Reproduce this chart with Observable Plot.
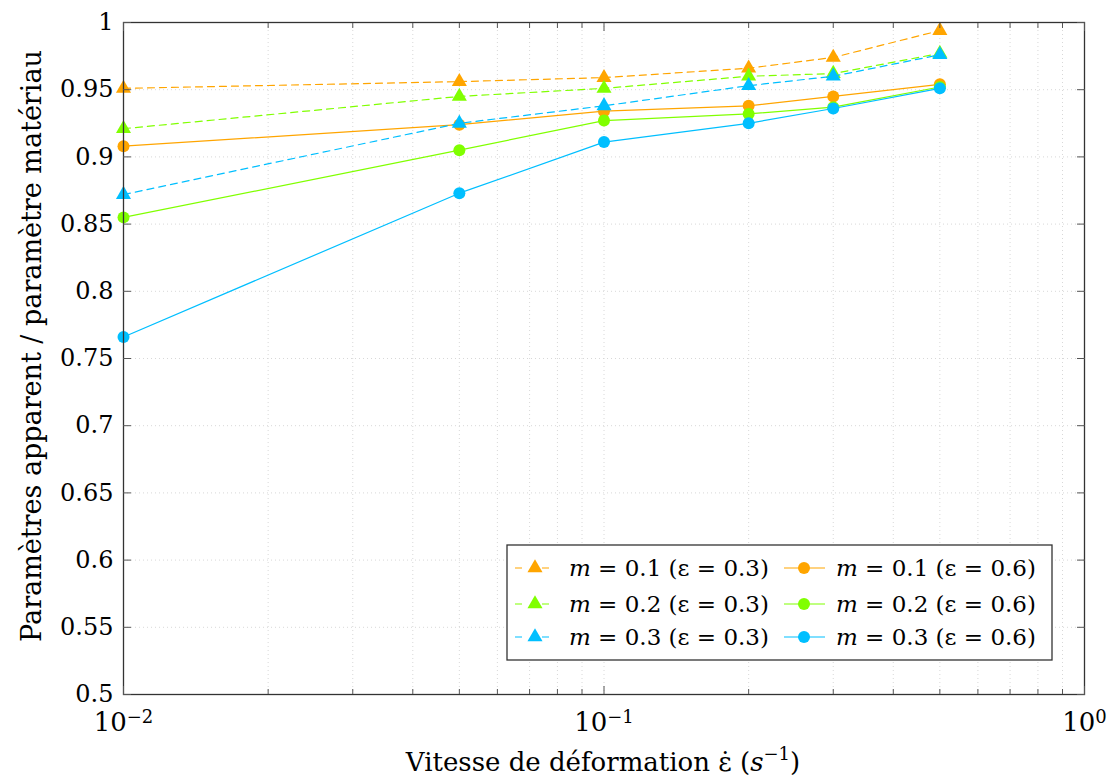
<!DOCTYPE html>
<html><head><meta charset="utf-8">
<script src="https://cdn.jsdelivr.net/npm/d3@7"></script>
<script src="https://cdn.jsdelivr.net/npm/@observablehq/plot@0.6"></script>
<style>body{margin:0;background:#fff} #chart svg{display:block}</style>
</head><body><div id="chart"></div>
<script>
// ---- data ----
const rates = [0.01, 0.05, 0.1, 0.2, 0.3, 0.5];
const m01_e03 = [0.951, 0.956, 0.959, 0.966, 0.974, 0.994];
const m01_e06 = [0.908, 0.924, 0.934, 0.938, 0.945, 0.954];
const m02_e03 = [0.921, 0.945, 0.951, 0.960, 0.962, 0.977];
const m02_e06 = [0.855, 0.905, 0.927, 0.932, 0.937, 0.952];
const m03_e03 = [0.872, 0.925, 0.938, 0.953, 0.960, 0.976];
const m03_e06 = [0.766, 0.873, 0.911, 0.925, 0.936, 0.951];
const mValues = ["0.1", "0.2", "0.3"];
const epsValues = ["0.3", "0.6"];
const seriesColors = ["#FFA500", "#80FF00", "#00BFFF"];
const yTicks = [0.5, 0.55, 0.6, 0.65, 0.7, 0.75, 0.8, 0.85, 0.9, 0.95, 1];
const yTickLabels = ["0.5", "0.55", "0.6", "0.65", "0.7", "0.75", "0.8", "0.85", "0.9", "0.95", "1"];
const xMajor = [0.01, 0.1, 1];
const xTickExponents = ["\u22122", "\u22121", "0"];
const xMinor = [0.02, 0.03, 0.04, 0.05, 0.06, 0.07, 0.08, 0.09, 0.2, 0.3, 0.4, 0.5, 0.6, 0.7, 0.8, 0.9];
const xLabel = "Vitesse de déformation ε\u0307 (";
const yLabel = "Paramètres apparent / paramètre matériau";

// series in plotting / legend order
const series = [
  {vals: m01_e03, m: 0, e: 0}, {vals: m01_e06, m: 0, e: 1},
  {vals: m02_e03, m: 1, e: 0}, {vals: m02_e06, m: 1, e: 1},
  {vals: m03_e03, m: 2, e: 0}, {vals: m03_e06, m: 2, e: 1}
];

const font = "DejaVu Serif";
const gridStyle = {stroke: "#d4d4d4", strokeDasharray: "1,3", strokeWidth: 0.9};

const seriesMarks = series.flatMap(s => {
  const data = rates.map((r, i) => ({x: r, y: s.vals[i]}));
  const color = seriesColors[s.m];
  return [
    Plot.line(data, {x: "x", y: "y", stroke: color, strokeWidth: 1.2,
      strokeDasharray: s.e === 0 ? "7,5" : null}),
    Plot.dot(data, {x: "x", y: "y", fill: color, stroke: "none",
      symbol: s.e === 0 ? d3.symbolTriangle : "circle", r: s.e === 0 ? 5.6 : 6})
  ];
});

const blank = () => "";
const plot = Plot.plot({
  width: 1110, height: 780,
  marginLeft: 123, marginRight: 26, marginTop: 22, marginBottom: 86,
  style: {fontFamily: font, fontSize: "24px", color: "#000", background: "#fff", overflow: "visible"},
  x: {type: "log", domain: [0.01, 1]},
  y: {domain: [0.5, 1]},
  marks: [
    Plot.ruleX(xMinor.concat(xMajor), gridStyle),
    Plot.ruleY(yTicks, gridStyle),
    ...seriesMarks,
    Plot.frame({stroke: "#333", strokeWidth: 1.3}),
    // inward ticks
    Plot.axisX(xMajor, {anchor: "bottom", tickSize: 8, dy: -8, tickFormat: blank, label: null, stroke: "#555"}),
    Plot.axisX(xMinor, {anchor: "bottom", tickSize: 5, dy: -5, tickFormat: blank, label: null, stroke: "#555"}),
    Plot.axisX(xMajor, {anchor: "top", tickSize: 8, dy: 8, tickFormat: blank, label: null, stroke: "#555"}),
    Plot.axisX(xMinor, {anchor: "top", tickSize: 5, dy: 5, tickFormat: blank, label: null, stroke: "#555"}),
    Plot.axisY(yTicks, {anchor: "left", tickSize: 8, dx: 8, tickFormat: blank, label: null, stroke: "#555"}),
    Plot.axisY(yTicks, {anchor: "right", tickSize: 8, dx: -8, tickFormat: blank, label: null, stroke: "#555"}),
    // tick labels
    Plot.axisX(xMajor, {anchor: "bottom", tickSize: 0, tickPadding: 18, label: null, fontSize: 26,
      tickFormat: d => "10|" + xTickExponents[xMajor.indexOf(d)]}),
    Plot.axisY(yTicks, {anchor: "left", tickSize: 0, tickPadding: 10, label: null,
      tickFormat: d => yTickLabels[yTicks.indexOf(d)]})
  ]
});
document.getElementById("chart").appendChild(plot);
const svg = d3.select(plot);

// turn "10|-2" tick labels into base + superscript
svg.selectAll("text").each(function() {
  const s = this.textContent;
  if (s.startsWith("10|")) {
    const exp = s.slice(3);
    const el = d3.select(this);
    el.text(null).attr("font-size", 26);
    el.append("tspan").text("10");
    el.append("tspan").attr("font-size", 18).attr("dy", "-0.45em").text(exp);
  }
});

// ---- axis titles ----
const xt = svg.append("text").attr("x", 603).attr("y", 771).attr("text-anchor", "middle")
  .attr("font-family", font).attr("font-size", 26).attr("fill", "#000");
xt.append("tspan").text(xLabel);
xt.append("tspan").attr("font-style", "italic").text("s");
xt.append("tspan").attr("font-size", 18).attr("dy", -11).text("\u22121");
xt.append("tspan").attr("dy", 11).text(")");

svg.append("text").attr("transform", "translate(41,346) rotate(-90)").attr("text-anchor", "middle")
  .attr("font-family", font).attr("font-size", 27).attr("fill", "#000").text(yLabel);

// ---- legend ----
const lg = svg.append("g").attr("font-family", font).attr("font-size", 23).attr("text-anchor", "start");
lg.append("rect").attr("x", 507).attr("y", 545).attr("width", 545).attr("height", 115)
  .attr("fill", "#fff").attr("stroke", "#333").attr("stroke-width", 1.3);
const rowY = [568, 604, 637];
const colMarker = [535, 804];
const colText = [569, 836];
series.forEach(s => {
  const cy = rowY[s.m], cx = colMarker[s.e], color = seriesColors[s.m];
  lg.append("line").attr("x1", cx - 20).attr("x2", cx + 21).attr("y1", cy).attr("y2", cy)
    .attr("stroke", color).attr("stroke-width", 1.2)
    .attr("stroke-dasharray", s.e === 0 ? "7,20,7" : null);
  if (s.e === 0) {
    lg.append("path").attr("transform", `translate(${cx},${cy})`)
      .attr("d", d3.symbol(d3.symbolTriangle, Math.PI * 5.6 * 5.6)()).attr("fill", color);
  } else {
    lg.append("circle").attr("cx", cx).attr("cy", cy).attr("r", 6).attr("fill", color);
  }
  const t = lg.append("text").attr("x", colText[s.e]).attr("y", cy + 8).attr("fill", "#000");
  t.append("tspan").attr("font-style", "italic").text("m");
  t.append("tspan").text(` = ${mValues[s.m]} (ε = ${epsValues[s.e]})`);
});
</script>
</body></html>
